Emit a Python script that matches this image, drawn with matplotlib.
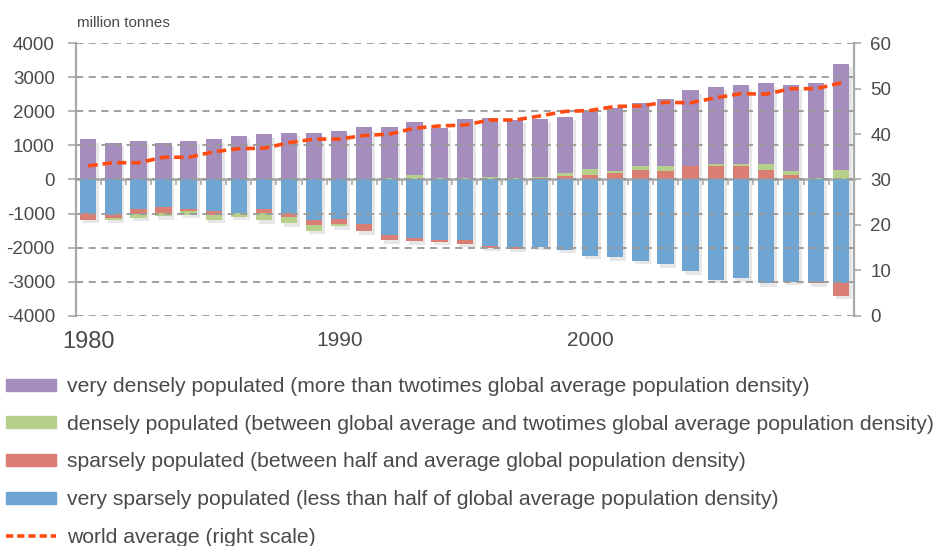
import matplotlib.pyplot as plt
import matplotlib.patheffects as pe
from matplotlib.patches import Patch
from matplotlib.lines import Line2D
import numpy as np

plt.rcParams['font.family'] = ['Liberation Sans', 'DejaVu Sans']

years = list(range(1980, 2011))

# positive side (million tonnes), stacked from 0 upward: sparse, dense, very dense
sparse_pos = [0, 0, 0, 0, 0, 0, 0, 0, 0, 0, 0, 0, 0, 0, 0, 0, 0, 0, 30, 90,
              140, 200, 290, 250, 400, 400, 400, 290, 140, 0, 0]
dense_pos = [0, 0, 0, 0, 0, 0, 0, 0, 0, 0, 0, 0, 50, 130, 40, 40, 80, 50, 50, 100,
             170, 50, 110, 160, 0, 50, 50, 160, 110, 50, 290]
total_top = [1180, 1073, 1132, 1073, 1132, 1180, 1278, 1327, 1380, 1380, 1430, 1540,
             1540, 1690, 1520, 1780, 1800, 1750, 1790, 1840, 2000, 2110, 2260, 2360,
             2620, 2730, 2770, 2820, 2770, 2820, 3400]

# negative side, stacked from 0 downward: very sparse, sparse, dense
very_sparse_neg = [975, 1044, 878, 820, 868, 927, 975, 878, 980, 1190, 1150, 1320,
                   1630, 1720, 1770, 1770, 1940, 1980, 1980, 2070, 2240, 2280, 2380,
                   2490, 2700, 2950, 2900, 3050, 3000, 3000, 3050]
sparse_neg = [215, 78, 146, 156, 58, 107, 0, 98, 110, 150, 150, 200, 150, 100, 60,
              120, 60, 50, 0, 0, 0, 0, 0, 0, 0, 0, 0, 0, 0, 50, 360]
dense_neg = [0, 68, 107, 107, 107, 146, 117, 215, 200, 160, 80, 0, 0, 0, 0, 0, 0,
             0, 0, 0, 0, 0, 0, 0, 0, 0, 0, 0, 0, 0, 0]

# world average (right scale)
world_avg = [33.0, 33.7, 33.7, 34.9, 34.9, 36.1, 36.8, 36.9, 38.1, 38.9, 38.9, 39.7,
             40.0, 41.3, 41.8, 42.0, 43.1, 43.1, 44.0, 45.0, 45.2, 46.1, 46.2, 47.0,
             46.9, 48.0, 48.9, 48.8, 50.0, 50.0, 51.3]

labels = [
    'very densely populated (more than twotimes global average population density)',
    'densely populated (between global average and twotimes global average population density)',
    'sparsely populated (between half and average global population density)',
    'very sparsely populated (less than half of global average population density)',
    'world average (right scale)',
]

c_purple = '#a58dbd'
c_green = '#b6d08b'
c_red = '#da7e74'
c_blue = '#6fa5d3'
c_line = '#ff4a10'
c_axis = '#a9a9a9'
c_text = '#4a4a4a'

x = np.arange(len(years))
sp = np.array(sparse_pos)
dp = np.array(dense_pos)
vd = np.array(total_top) - sp - dp
vs = -np.array(very_sparse_neg)
sn = -np.array(sparse_neg)
dn = -np.array(dense_neg)

fig = plt.figure(figsize=(9.37, 5.46), dpi=100)
ax = fig.add_axes([0.0808, 0.4218, 0.8303, 0.4989])

shadow = [pe.SimplePatchShadow(offset=(2, -2.5), shadow_rgbFace='#888888', alpha=0.2),
          pe.Normal()]
w = 0.65
# draw upper segments first so shadows don't fall on the segments below
ax.bar(x, vd, bottom=sp + dp, width=w, color=c_purple, zorder=2, path_effects=shadow)
ax.bar(x, dp, bottom=sp, width=w, color=c_green, zorder=2, path_effects=shadow)
ax.bar(x, sp, width=w, color=c_red, zorder=2, path_effects=shadow)
ax.bar(x, vs, width=w, color=c_blue, zorder=2, path_effects=shadow)
ax.bar(x, sn, bottom=vs, width=w, color=c_red, zorder=2, path_effects=shadow)
ax.bar(x, dn, bottom=vs + sn, width=w, color=c_green, zorder=2, path_effects=shadow)

ax.set_xlim(-0.5, len(years) - 0.5)
ax.set_ylim(-4000, 4000)
ax.set_yticks(range(-4000, 4001, 1000))
ax.set_yticklabels([str(v) for v in range(-4000, 4001, 1000)])
ax.grid(axis='y', color='#999999', linestyle=(0, (4, 3)), linewidth=1.3, zorder=3)
ax.set_axisbelow(False)
for s in ['top', 'bottom', 'right']:
    ax.spines[s].set_visible(False)
ax.spines['left'].set_color(c_axis)
ax.spines['left'].set_linewidth(1.6)
ax.tick_params(axis='y', colors=c_axis, labelcolor=c_text, labelsize=13.5,
               length=6, width=1.2, pad=9)

ax.set_xticks([0, 10, 20])
ax.set_xticklabels(['1980', '1990', '2000'])
ax.tick_params(axis='x', length=0, labelcolor=c_text, labelsize=15, pad=11)
ax.get_xticklabels()[0].set_fontsize(17)

# zero line with category ticks
zero = ax.secondary_xaxis(0.5)
zero.set_xticks(x[1:] - 0.5)
zero.set_xticklabels([])
zero.spines['top'].set_color(c_axis)
zero.spines['top'].set_linewidth(1.8)
zero.tick_params(direction='in', length=4, width=1.2, colors=c_axis)

ax2 = ax.twinx()
ax2.plot(x, world_avg, color=c_line, linewidth=2.6, linestyle=(0, (2.6, 1.4)),
         solid_capstyle='butt', zorder=5)
ax2.set_ylim(0, 60)
ax2.set_yticks(range(0, 61, 10))
for s in ['top', 'bottom', 'left']:
    ax2.spines[s].set_visible(False)
ax2.spines['right'].set_color(c_axis)
ax2.spines['right'].set_linewidth(1.6)
ax2.tick_params(axis='y', colors=c_axis, labelcolor=c_text, labelsize=13.5,
                length=5, width=1.2, pad=7)

fig.text(0.082, 0.957, 'million tonnes', fontsize=11, color=c_text, va='center')

handles = [Patch(color=c_purple), Patch(color=c_green), Patch(color=c_red),
           Patch(color=c_blue),
           Line2D([0], [0], color=c_line, linewidth=2.6, linestyle=(0, (2.0, 1.1)))]
leg = fig.legend(handles, labels, loc='upper left', bbox_to_anchor=(0.006, 0.309),
                 frameon=False, fontsize=15.2, labelspacing=0.88, handlelength=2.4,
                 handleheight=0.5, handletextpad=0.5, borderaxespad=0, borderpad=0)
for t in leg.get_texts():
    t.set_color(c_text)

fig.savefig('out.png', dpi=100)
